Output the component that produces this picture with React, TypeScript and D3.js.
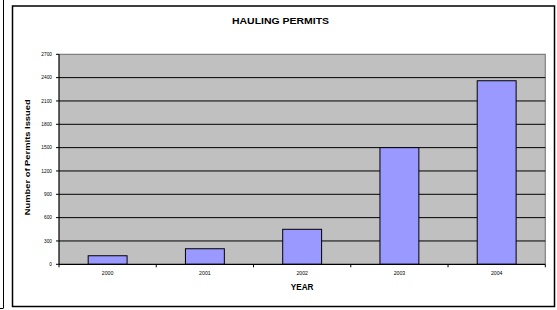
import React from "react";
import * as d3 from "d3";

const categories = ["2000", "2001", "2002", "2003", "2004"];
const permits = [110, 200, 450, 1500, 2360];
const yTicks = [0, 300, 600, 900, 1200, 1500, 1800, 2100, 2400, 2700];
const title = "HAULING PERMITS";
const xTitle = "YEAR";
const yTitle = "Number of Permits Issued";

const W = 557;
const H = 310;
const plot = { left: 59, right: 545.3, top: 54.3, bottom: 264.3 };

export default function App() {
  const x = d3
    .scaleBand<string>()
    .domain(categories)
    .range([plot.left, plot.right])
    .paddingInner(0.6)
    .paddingOuter(0.3);
  const xStep = d3.scaleBand<string>().domain(categories).range([plot.left, plot.right]);
  const y = d3.scaleLinear().domain([0, 2700]).range([plot.bottom, plot.top]);
  const font = "Arial, 'Liberation Sans', sans-serif";
  const cy = (plot.top + plot.bottom) / 2;
  const cx = (plot.left + plot.right) / 2;
  const boundaries = categories.map((c) => xStep(c) as number).concat([plot.right]);

  return (
    <svg
      width={W}
      height={H}
      style={{ position: "absolute", left: 0, top: 0, background: "#fff" }}
      fontFamily={font}
    >
      <line x1={3.5} y1={0} x2={3.5} y2={308} stroke="#000" strokeWidth={1} />
      <line x1={0} y1={308.5} x2={3.5} y2={308.5} stroke="#000" strokeWidth={1} />
      <rect x={12.5} y={6} width={542} height={300.5} fill="#fff" stroke="#000" strokeWidth={1.5} />
      <text x={280.5} y={24.3} textAnchor="middle" fontSize={9.5} fontWeight="bold" textLength={97} lengthAdjust="spacingAndGlyphs">
        {title}
      </text>
      <rect
        x={plot.left}
        y={plot.top}
        width={plot.right - plot.left}
        height={plot.bottom - plot.top}
        fill="#c0c0c0"
      />
      <path
        d={`M${plot.left},${plot.top}H${plot.right}V${plot.bottom}`}
        fill="none"
        stroke="#808080"
        strokeWidth={1.2}
      />
      {yTicks.slice(1, -1).map((t) => (
        <line key={t} x1={plot.left} x2={plot.right} y1={y(t)} y2={y(t)} stroke="#000" strokeWidth={1} />
      ))}
      {categories.map((c, i) => (
        <rect
          key={c}
          x={x(c)}
          y={y(permits[i])}
          width={x.bandwidth()}
          height={plot.bottom - y(permits[i])}
          fill="#9999ff"
          stroke="#000"
          strokeWidth={1}
        />
      ))}
      <line x1={plot.left} x2={plot.left} y1={plot.top} y2={plot.bottom} stroke="#000" strokeWidth={1.2} />
      <line x1={plot.left} x2={plot.right} y1={plot.bottom} y2={plot.bottom} stroke="#000" strokeWidth={1.2} />
      {yTicks.map((t) => (
        <g key={t}>
          <line x1={plot.left - 3} x2={plot.left} y1={y(t)} y2={y(t)} stroke="#000" strokeWidth={1} />
          <text x={plot.left - 7} y={y(t) + 1.7} textAnchor="end" fontSize={4.8} fill="#000">
            {t}
          </text>
        </g>
      ))}
      {boundaries.map((b, i) => (
        <line key={i} x1={b} x2={b} y1={plot.bottom} y2={plot.bottom + 3} stroke="#000" strokeWidth={1} />
      ))}
      {categories.map((c) => (
        <text
          key={c}
          x={(xStep(c) as number) + xStep.bandwidth() / 2}
          y={275}
          textAnchor="middle"
          fontSize={5.2}
          fill="#000"
        >
          {c}
        </text>
      ))}
      <text x={cx} y={290.3} textAnchor="middle" fontSize={8.2} fontWeight="bold">
        {xTitle}
      </text>
      <text
        transform={`translate(30,${cy - 2}) rotate(-90)`}
        textAnchor="middle"
        fontSize={7.5}
        fontWeight="bold"
        textLength={116}
        lengthAdjust="spacingAndGlyphs"
      >
        {yTitle}
      </text>
    </svg>
  );
}
